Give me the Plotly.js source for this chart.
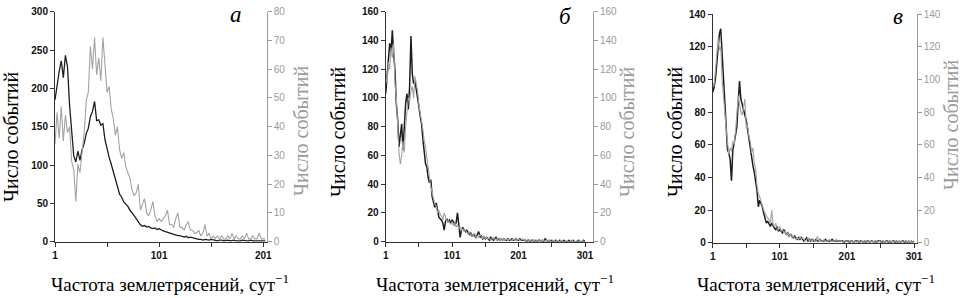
<!DOCTYPE html>
<html>
<head>
<meta charset="utf-8">
<script src="https://cdn.plot.ly/plotly-3.0.1.min.js"></script>
<style>html,body{margin:0;padding:0;background:#fff;}#chart{width:970px;height:298px;}</style>
</head>
<body>
<div id="chart"></div>
<script>
// Panel а: x = 1,3,5,... (step 2)
const aBlack = [185,205,222,236,214,243,228,178,140,112,104,118,106,120,128,141,148,163,170,183,158,159,152,154,133,119,110,101,90,82,72,62,58,52,49,46,41,38,34,30,25,22,20,21,19,20,18,17,18,16,17,15,14,13,12,11,11,9,9,8,8,7,6,7,5,6,5,4,4,3,3,2,3,2,2,3,2,2,1,2,2,1,2,2,1,2,2,1,1,1,2,1,1,1,2,1,1,1,1,1,1,1];
const aGray = [34,45,36,47,35,44,38,40,28,25,14,27,24,30,38,49,52,68,60,71,58,64,56,71,60,52,54,46,43,37,40,32,29,31,26,24,22,18,16,17,20,11,13,15,10,9,11,14,9,7,8,7,8,9,11,6,6,5,8,10,5,5,4,6,7,4,4,3,3,4,2,3,6,2,3,1,2,1,2,1,2,1,1,2,1,3,1,2,1,1,2,1,3,1,1,2,1,1,3,1,1,1];
// Panel б
const bBlack = [103,115,126,138,132,147,131,119,96,85,66,73,82,64,80,96,103,92,108,143,117,110,112,106,103,94,87,82,71,64,54,52,44,41,43,31,27,24,27,22,17,16,15,13,8,14,16,14,15,13,15,14,12,13,20,12,3,8,10,8,7,8,6,5,6,4,5,4,3,5,7,3,4,2,3,2,3,2,1,3,2,1,2,3,1,2,1,2,1,2,1,1,2,1,1,2,1,1,2,1,1,2,1,1,1,1,0,1,1,0,1,1,0,1,0,1,1,0,1,0,2,1,0,1,0,1,0,0,1,0,0,1,0,0,1,0,0,0,1,0,0,1,0,0,0,1,0,0,0,1,0];
const bGray = [115,110,125,120,135,128,138,110,100,80,62,54,60,70,62,80,90,100,98,105,108,100,115,110,105,95,90,84,78,70,66,58,50,46,38,34,30,26,25,20,22,19,18,15,20,16,14,15,13,12,14,11,13,10,12,9,10,8,9,7,8,6,5,7,4,5,4,6,3,4,3,5,3,2,4,2,3,2,3,1,2,3,1,2,1,3,1,2,1,2,1,2,1,2,1,1,2,1,3,1,2,1,1,2,1,1,1,0,1,1,0,1,1,0,1,0,1,0,1,1,0,1,0,1,0,0,1,0,0,1,0,0,1,0,0,0,1,0,0,0,1,0,0,0,1,0,0,0,1,0,0];
// Panel в
const cBlack = [92,95,100,110,122,128,131,116,102,87,75,57,55,51,38,57,61,65,71,86,99,88,84,82,78,75,69,63,57,53,47,43,38,32,22,26,24,22,18,15,12,13,11,10,12,10,9,8,10,7,8,7,6,8,6,5,6,4,5,4,3,4,3,2,3,2,3,2,1,2,3,1,2,1,2,1,1,2,1,1,2,1,1,1,2,1,1,1,1,2,1,1,1,1,1,1,1,1,0,1,1,1,0,1,1,0,1,1,1,0,1,1,0,1,0,1,1,0,1,1,0,1,0,1,1,1,0,1,0,1,1,0,1,0,1,1,0,1,0,1,0,1,1,0,1,0,1,0,1,0,1];
const cGray = [98,96,105,115,125,118,120,100,92,80,70,60,54,58,56,62,60,68,78,90,85,80,78,84,88,70,72,65,62,55,58,48,45,35,30,28,25,22,20,18,16,15,14,12,20,11,10,12,9,8,10,7,8,6,7,5,6,4,5,3,4,3,2,3,2,4,2,3,2,1,2,3,1,2,1,2,1,1,4,1,2,1,1,2,1,1,1,2,1,1,1,1,2,1,1,1,1,0,1,1,1,0,1,1,1,0,1,0,1,1,0,1,0,1,1,0,1,0,1,1,0,1,1,0,1,0,1,1,0,1,0,1,1,0,1,0,1,1,0,1,0,1,0,1,1,0,1,0,1,0,1];

const xTickVals = [1,101,201,301];
const xTickText = ['1','101','201','301'];
const yTitle = 'Число событий';
const xTitle = 'Частота землетрясений, сут<sup>−1</sup>';
const letters = ['а','б','в'];

function xs(arr){ return arr.map((_, i) => 1 + 2*i); }

const BLACK = '#1e1e1e', GRAY = '#a3a3a3';
const traces = [
  {x: xs(aGray), y: aGray, xaxis:'x', yaxis:'y2', mode:'lines', line:{color:GRAY,width:1.1}},
  {x: xs(aBlack), y: aBlack, xaxis:'x', yaxis:'y', mode:'lines', line:{color:BLACK,width:1.3}},
  {x: xs(bGray), y: bGray, xaxis:'x2', yaxis:'y4', mode:'lines', line:{color:GRAY,width:1.1}},
  {x: xs(bBlack), y: bBlack, xaxis:'x2', yaxis:'y3', mode:'lines', line:{color:BLACK,width:1.5}},
  {x: xs(cGray), y: cGray, xaxis:'x3', yaxis:'y6', mode:'lines', line:{color:GRAY,width:1.1}},
  {x: xs(cBlack), y: cBlack, xaxis:'x3', yaxis:'y5', mode:'lines', line:{color:BLACK,width:1.5}}
];

const W = 970, H = 298;
const px = v => v / W, py = v => 1 - v / H;

const tickFontL = {family:'Liberation Sans', size:10, color:'#111', weight:'bold'};
const tickFontR = {family:'Liberation Sans', size:10, color:'#9a9a9a'};

function xAxis(dom, rng, anchor){
  return {domain:dom, range:rng, anchor:anchor, tickvals:xTickVals, ticktext:xTickText,
    showline:true, linecolor:'#333', linewidth:1, ticks:'outside', ticklen:4, tickcolor:'#333',
    minor:{tick0:1, dtick:50, ticks:'outside', ticklen:4, tickcolor:'#333', showgrid:false},
    showgrid:false, zeroline:false, tickfont:tickFontL, fixedrange:true};
}
function yAxisL(dom, rng, dt, anchor){
  return {domain:dom, range:rng, dtick:dt, anchor:anchor, showline:true, linecolor:'#333', linewidth:1,
    ticks:'outside', ticklen:4, tickcolor:'#333', showgrid:false, zeroline:false, tickfont:tickFontL};
}
function yAxisR(over, rng, dt, anchor){
  return {overlaying:over, side:'right', anchor:anchor, range:rng, dtick:dt, showline:true, linecolor:'#9a9a9a', linewidth:1,
    ticks:'outside', ticklen:4, tickcolor:'#9a9a9a', showgrid:false, zeroline:false, tickfont:tickFontR};
}

const domAB = [py(241.7), py(11.7)];
const domC = [py(242.7), py(14)];

const serif = 'Liberation Serif';
const ann = [];
function titleAnn(x, y, text, color, angle, size){
  ann.push({xref:'paper', yref:'paper', x:px(x), y:py(y), text:text, showarrow:false, textangle:angle,
    xanchor:'center', yanchor:'middle', font:{family:serif, size:size, color:color}});
}
// left / right y titles
titleAnn(11, 137, yTitle, '#000', -90, 20);
titleAnn(301, 131, yTitle, '#9a9a9a', -90, 20);
titleAnn(338, 132, yTitle, '#000', -90, 20);
titleAnn(627, 132, yTitle, '#9a9a9a', -90, 20);
titleAnn(675, 132, yTitle, '#000', -90, 20);
titleAnn(951, 125, yTitle, '#9a9a9a', -90, 20);
// x titles
titleAnn(170, 283, xTitle, '#000', 0, 19);
titleAnn(495, 283, xTitle, '#000', 0, 19);
titleAnn(816, 283, xTitle, '#000', 0, 19);
// panel letters
[[236,15],[565,17],[898,17]].forEach((p, i) => {
  ann.push({xref:'paper', yref:'paper', x:px(p[0]), y:py(p[1]), text:'<i>'+letters[i]+'</i>', showarrow:false,
    xanchor:'center', yanchor:'middle', font:{family:serif, size:23, color:'#000'}});
});

const layout = {
  width:W, height:H, margin:{l:0,r:0,t:0,b:0}, showlegend:false,
  paper_bgcolor:'#fff', plot_bgcolor:'rgba(0,0,0,0)',
  xaxis: xAxis([px(55), px(266.7)], [1, 204.3], 'y'),
  yaxis: yAxisL(domAB, [0,300], 50, 'x'),
  yaxis2: yAxisR('y', [0,80], 10, 'x'),
  xaxis2: xAxis([px(385.7), px(593)], [1, 313], 'y3'),
  yaxis3: yAxisL(domAB, [0,160], 20, 'x2'),
  yaxis4: yAxisR('y3', [0,160], 20, 'x2'),
  xaxis3: xAxis([px(712.7), px(916.7)], [1, 305], 'y5'),
  yaxis5: yAxisL(domC, [0,140], 20, 'x3'),
  yaxis6: yAxisR('y5', [0,140], 20, 'x3'),
  annotations: ann
};

Plotly.newPlot('chart', traces, layout, {displayModeBar:false, staticPlot:true});
</script>
</body>
</html>
